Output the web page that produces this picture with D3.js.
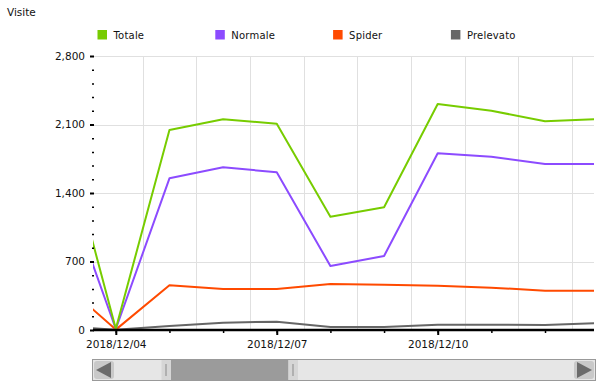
<!DOCTYPE html>
<html>
<head>
<meta charset="utf-8">
<script src="https://cdn.jsdelivr.net/npm/d3@7"></script>
<style>
  body { margin: 0; background: #fff; }
  text { font-family: 'DejaVu Sans', Verdana, sans-serif; fill: #111; }
</style>
</head>
<body>
<script>
'use strict';

// daily visits, one value per day (first and last days are only partly in view)
var days = ['2018-12-03', '2018-12-04', '2018-12-05', '2018-12-06', '2018-12-07', '2018-12-08',
  '2018-12-09', '2018-12-10', '2018-12-11', '2018-12-12', '2018-12-13'];
var totale = [2070, 12, 2044, 2153, 2108, 1158, 1254, 2310, 2241, 2133, 2155];
var normale = [1548, 10, 1550, 1663, 1612, 654, 756, 1806, 1771, 1697, 1697];
var spider = [488, 4, 457, 419, 419, 470, 463, 453, 433, 402, 402];
var prelevato = [37, 2, 41, 75, 85, 31, 31, 54, 54, 51, 70];

var seriesNames = ['Totale', 'Normale', 'Spider', 'Prelevato'];
var seriesColors = ['#77cc00', '#8c4bff', '#ff4a00', '#666666'];
var seriesValues = [totale, normale, spider, prelevato];

var yMajor = [0, 700, 1400, 2100, 2800];
var labelDays = ['2018-12-04', '2018-12-07', '2018-12-10'];

var width = 608;
var height = 390;
var parse = d3.utcParse('%Y-%m-%d');
var DAY = 864e5;

var svg = d3.select('body').append('svg')
  .attr('width', width)
  .attr('height', height);

// visible window of the scroller: about 0.43 day before 12/04 to 0.91 day after 12/12
var x = d3.scaleUtc()
  .domain([new Date(+parse('2018-12-04') - 0.425 * DAY), new Date(+parse('2018-12-12') + 0.913 * DAY)])
  .range([93, 594]);

var y = d3.scaleLinear()
  .domain([0, 2800])
  .range([330, 56]);

svg.append('text')
  .attr('x', 7)
  .attr('y', 16)
  .style('font-size', '10.5px')
  .text('Visite');

// legend
var legend = svg.selectAll('g.legend')
  .data(seriesNames)
  .enter().append('g')
  .attr('class', 'legend')
  .attr('transform', function(d, i) { return 'translate(' + (97.5 + i * 117.8) + ',30)'; });

legend.append('rect')
  .attr('width', 9.5)
  .attr('height', 9.5)
  .attr('fill', function(d, i) { return seriesColors[i]; });

legend.append('text')
  .attr('x', 16)
  .attr('y', 9)
  .style('font-size', '10px')
  .style('letter-spacing', '0.2px')
  .text(function(d) { return d; });

// grid
var grid = svg.append('g').attr('stroke', '#e0e0e0').attr('stroke-width', 1);

grid.selectAll('line.h')
  .data(yMajor.slice(1))
  .enter().append('line')
  .attr('x1', 93).attr('x2', 594)
  .attr('y1', function(d) { return Math.round(y(d)) + 0.5; })
  .attr('y2', function(d) { return Math.round(y(d)) + 0.5; });

// vertical grid sits at midday
var midDays = d3.utcDay.range(new Date(+x.domain()[0] - DAY), x.domain()[1])
  .map(function(d) { return new Date(+d + DAY / 2); })
  .filter(function(d) { return d >= x.domain()[0] && d <= x.domain()[1]; });

grid.selectAll('line.v')
  .data(midDays)
  .enter().append('line')
  .attr('y1', 56).attr('y2', 330)
  .attr('x1', function(d) { return Math.round(x(d)) + 0.5; })
  .attr('x2', function(d) { return Math.round(x(d)) + 0.5; });

// series lines
svg.append('clipPath').attr('id', 'plot')
  .append('rect').attr('x', 93).attr('y', 40).attr('width', 501).attr('height', 292);

var line = d3.line()
  .x(function(d, i) { return x(parse(days[i])); })
  .y(function(d) { return y(d); });

svg.append('g')
  .attr('clip-path', 'url(#plot)')
  .selectAll('path')
  .data(seriesValues.slice().reverse())
  .enter().append('path')
  .attr('d', line)
  .attr('fill', 'none')
  .attr('stroke', function(d, i) { return seriesColors[seriesColors.length - 1 - i]; })
  .attr('stroke-width', 2)
  .attr('stroke-linejoin', 'round');

// y axis: major ticks with labels, minor dots every 140
var yAxis = svg.append('g')
  .attr('transform', 'translate(94,0)')
  .call(d3.axisLeft(y).tickValues(yMajor).tickSize(4).tickPadding(5).tickFormat(d3.format(',')));
yAxis.select('.domain').remove();
yAxis.selectAll('line').attr('stroke', '#000').attr('stroke-width', 2);
yAxis.selectAll('text').style('font-size', '10.5px').attr('font-family', null);

var yMinor = svg.append('g')
  .attr('transform', 'translate(94,0)')
  .call(d3.axisLeft(y).tickValues(d3.range(140, 2800, 140).filter(function(v) { return v % 700 !== 0; }))
    .tickSize(2).tickFormat(''));
yMinor.select('.domain').remove();
yMinor.selectAll('line').attr('stroke', '#000').attr('stroke-width', 1.5);

// x axis
var xMinor = svg.append('g')
  .attr('transform', 'translate(0,330)')
  .call(d3.axisBottom(x).ticks(d3.utcDay.every(1)).tickSize(3).tickFormat(''));
xMinor.select('.domain').remove();
xMinor.selectAll('line').attr('stroke', '#000').attr('stroke-width', 1.5);

var xAxis = svg.append('g')
  .attr('transform', 'translate(0,330)')
  .call(d3.axisBottom(x).tickValues(labelDays.map(parse)).tickSize(5).tickPadding(6)
    .tickFormat(d3.utcFormat('%Y/%m/%d')));
xAxis.select('.domain').attr('d', 'M93,0H594').attr('stroke', '#000').attr('stroke-width', 2.5);
xAxis.selectAll('line').attr('stroke', '#000').attr('stroke-width', 2);
xAxis.selectAll('text').style('font-size', '10.5px').attr('font-family', null);

// scroller under the chart
var sc = svg.append('g');
sc.append('rect')
  .attr('x', 92.5).attr('y', 359.5).attr('width', 503).attr('height', 21)
  .attr('fill', '#e6e6e6').attr('stroke', '#999');

[[94, 'left'], [574, 'right']].forEach(function(b) {
  sc.append('rect')
    .attr('x', b[0]).attr('y', 361).attr('width', 20).attr('height', 18).attr('rx', 3)
    .attr('fill', '#c9c9c9');
  var pts = b[1] === 'left'
    ? [[b[0] + 2, 370], [b[0] + 17, 362], [b[0] + 17, 378]]
    : [[b[0] + 18, 370], [b[0] + 3, 362], [b[0] + 3, 378]];
  sc.append('polygon').attr('points', pts.join(' ')).attr('fill', '#6b6b6b');
});

sc.append('rect')
  .attr('x', 170.5).attr('y', 360).attr('width', 118).attr('height', 20)
  .attr('fill', '#9b9b9b');

[161.5, 288.5].forEach(function(hx) {
  sc.append('rect')
    .attr('x', hx).attr('y', 360).attr('width', 9.5).attr('height', 20)
    .attr('fill', '#d6d6d6');
  sc.append('line')
    .attr('x1', hx + 4.5).attr('x2', hx + 4.5).attr('y1', 364).attr('y2', 376)
    .attr('stroke', '#8a8a8a').attr('stroke-width', 1);
});
</script>
</body>
</html>
